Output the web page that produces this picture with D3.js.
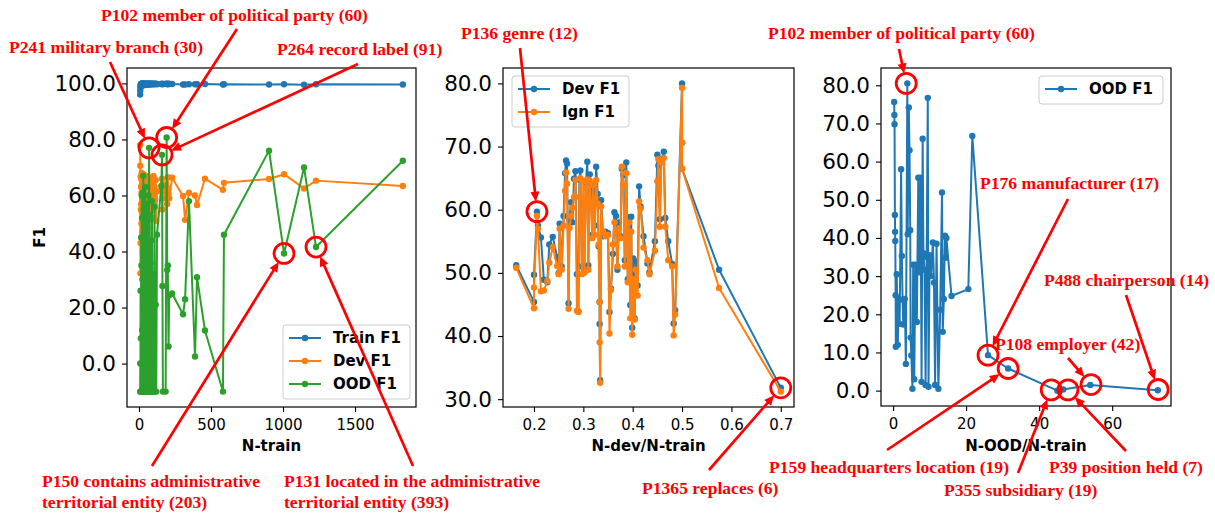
<!DOCTYPE html>
<html><head><meta charset="utf-8">
<script src="https://cdn.jsdelivr.net/npm/d3@7"></script>
<style>body{margin:0;background:#fff;} svg{display:block;}</style>
</head><body>
<svg id="chart" width="1215" height="513"></svg>
<script>
// ---------- Panel 1: F1 vs N-train ----------
const nTrain = [8,9,10,11,12,13,14,15,16,17,18,19,20,21,22,23,24,25,26,28,29,30,32,33,35,36,38,40,41,43,45,47,48,50,52,54,56,58,60,62,64,66,68,70,72,74,76,78,80,83,86,88,90,93,96,100,104,108,112,116,120,125,
  155,160,163,166,185,192,196,200,205,210,230,306,320,347,389,403,458,583,590,903,1007,1146,1229,1832];
const trainF1 = [96.0,97.5,98.6,99.2,99.6,98.9,99.8,99.1,99.7,99.9,99.3,99.9,99.5,99.8,99.6,99.9,99.2,99.7,100.0,99.6,99.8,99.7,99.9,99.4,99.8,99.6,99.9,99.7,99.8,99.6,99.9,99.7,99.8,99.9,99.6,99.8,99.9,99.7,99.8,99.9,99.6,99.8,99.9,99.7,99.8,99.9,99.8,99.9,99.7,99.8,99.9,99.7,99.8,99.9,99.8,99.9,99.7,99.8,99.9,99.8,99.9,99.7,
  99.8,99.9,99.7,99.8,99.9,99.8,99.9,99.7,99.8,99.9,99.8,99.6,99.6,99.7,99.7,99.7,99.8,99.6,99.7,99.6,99.7,99.5,99.7,99.6];
const devF1 = [78.0,70.6,32.2,43.0,66.8,55.0,63.0,57.0,66.0,50.0,61.0,68.0,54.0,64.0,59.0,66.5,47.0,62.0,57.5,65.0,52.0,64.5,60.0,67.5,55.5,63.5,58.0,66.0,50.5,62.5,57.0,65.5,53.5,61.0,67.0,56.0,63.0,48.5,64.0,59.5,66.5,55.0,62.0,63.5,65.0,58.5,51.5,60.0,66.0,54.5,62.5,57.5,64.5,52.0,60.5,67.0,55.5,63.0,58.5,65.5,51.0,61.5,
  62.0,66.0,55.0,64.0,59.0,63.0,57.0,66.5,60.5,59.0,66.3,59.8,51.3,61.0,60.0,56.6,66.0,62.0,64.5,65.9,67.6,62.5,65.3,63.4];
const oodF1 = [-10,0,-10,26,-10,9,-10,45,-10,35,-10,60,-10,52,12,-10,30,-10,61,-10,40,67,-10,55,-10,22,-10,48,-10,63,-10,18,50,-10,33,-10,57,-10,14,42,-10,60,-10,77,-10,53,28,-10,36,-10,44,-10,58,3,-10,32,-10,56,-10,21,-10,46,
  63.4,74.5,27.7,-10,-10,80.7,33.4,35.0,6.1,24.4,25.0,17.6,23.0,58.0,2.5,30.8,11.8,-10,46.0,76.0,39.3,70.0,41.6,72.4];
const xTicks1 = [0,500,1000,1500];
const yTicks1 = [0,20,40,60,80,100];

// ---------- Panel 2: F1 vs N-dev/N-train ----------
const devRatio = [0.164,0.200,0.200,0.206,0.208,0.214,0.220,0.227,0.231,0.238,0.247,0.250,0.252,0.256,0.260,0.263,0.265,0.267,0.270,0.272,0.275,0.278,0.281,0.284,0.287,0.290,0.292,0.294,0.297,0.300,0.302,0.305,0.308,0.310,0.313,0.316,0.318,0.320,0.323,0.326,0.329,0.331,0.333,0.333,0.334,0.336,0.340,0.345,0.350,0.353,0.356,0.360,0.363,0.366,0.369,0.372,0.375,0.378,0.381,0.384,0.387,0.390,0.393,0.395,0.397,0.399,0.401,0.404,0.406,0.410,0.413,0.416,0.422,0.430,0.434,0.445,0.450,0.452,0.455,0.458,0.463,0.466,0.472,0.480,0.483,0.486,0.500,0.500,0.500,0.575,0.700];
const ratioDevF1 = [51.2,45.4,49.7,59.7,57.5,55.6,48.9,48.5,54.5,55.7,52.5,50.0,57.8,51.0,59.0,65.8,67.8,67.3,45.2,58.5,61.2,58.0,64.9,66.1,49.8,43.9,64.8,66.2,51.0,60.5,50.2,64.1,67.6,51.2,65.6,62.0,56.0,63.0,57.5,66.8,62.5,54.2,45.4,41.9,33.0,61.5,55.8,56.5,56.3,43.8,47.5,53.0,59.6,59.0,50.5,58.0,55.8,66.5,65.5,52.0,67.5,49.0,58.8,44.9,58.9,41.3,52.3,42.8,51.8,48.0,63.7,60.5,55.8,51.5,50.1,55.0,68.7,67.0,58.5,68.0,69.2,58.7,55.0,51.4,42.0,44.1,80.0,70.6,66.5,50.5,31.8];
const ratioIgnF1 = [50.8,44.4,47.7,59.0,57.0,47.1,47.2,48.7,51.6,54.1,51.1,49.8,57.0,50.5,57.5,63.0,65.9,64.1,44.3,57.1,59.0,60.3,62.0,64.7,44.0,43.8,62.0,65.0,49.8,64.5,50.0,63.5,64.8,50.5,64.6,60.5,55.5,64.0,56.0,64.7,61.0,54.5,45.4,39.0,32.6,60.5,56.5,55.8,56.0,40.4,47.3,54.5,58.0,56.5,51.0,57.0,55.5,66.8,64.0,51.0,65.8,48.5,58.0,42.8,56.5,40.2,49.0,42.6,50.5,46.4,61.3,60.2,54.0,52.0,49.8,53.5,64.5,68.0,57.3,67.5,68.2,57.3,52.0,51.0,40.1,43.4,79.3,70.6,66.5,47.6,31.2];
const xTicks2 = [0.2,0.3,0.4,0.5,0.6,0.7];
const yTicks2 = [30,40,50,60,70,80];

// ---------- Panel 3: OOD F1 vs N-OOD/N-train ----------
const oodRatio = [0.3,0.35,0.4,0.5,0.55,0.6,0.7,0.75,1.0,1.3,1.5,1.8,2.2,2.4,2.6,2.8,3.2,3.5,3.9,4.0,4.3,4.5,4.7,4.8,5.0,5.3,5.5,5.8,6.1,6.5,6.9,7.2,7.5,7.8,8.1,8.3,8.6,8.9,9.2,9.5,9.7,10.0,10.4,10.9,11.2,11.5,11.9,12.4,12.9,13.4,13.6,13.9,14.2,14.4,14.6,16.0,20.6,21.7,26.0,31.5,45.0,46.6,54.0,72.5];
const oodRatioF1 = [75.6,72.2,69.8,46.0,41.6,39.2,25.0,11.5,30.5,12.0,24.0,17.5,58.0,35.3,23.8,17.3,24.0,7.0,80.5,41.0,74.2,63.0,42.0,13.9,9.2,0.5,33.0,3.0,33.0,18.0,55.8,31.0,55.8,2.3,66.0,36.0,31.7,1.5,35.0,76.7,1.0,35.5,30.0,38.8,28.3,1.5,38.5,0.5,21.2,51.9,15.4,24.0,40.6,34.8,40.0,24.8,26.6,66.7,9.3,5.8,0.0,0.3,1.5,0.1];
const xTicks3 = [0,20,40,60];
const yTicks3 = [0,10,20,30,40,50,60,70,80];

// ---------- Layout / styling ----------
const C = {blue:'#1f77b4', orange:'#ff7f0e', green:'#2ca02c', red:'#ff0000'};
const FONT = "'DejaVu Sans', sans-serif";
const SERIF = "'Liberation Serif', 'Times New Roman', serif";
const svg = d3.select('#chart');

function padded(arrays){
  const all = [].concat(...arrays);
  const [a,b] = d3.extent(all); const p = (b-a)*0.05; return [a-p, b+p];
}

function makePanel(box, xDom, yDom, xTicks, xFmt, yTicks, xLabel, yLabel){
  const x = d3.scaleLinear().domain(xDom).range([box.x0, box.x1]);
  const y = d3.scaleLinear().domain(yDom).range([box.y1, box.y0]);
  const g = svg.append('g');
  const xa = g.append('g').attr('transform',`translate(0,${box.y1})`)
    .call(d3.axisBottom(x).tickValues(xTicks).tickFormat(xFmt).tickSize(5).tickPadding(7));
  xa.attr('font-family', FONT).attr('font-size', 15);
  xa.select('.domain').remove();
  xa.selectAll('text').attr('fill','#000');
  xa.selectAll('line').attr('stroke','#000').attr('stroke-width',1.1);
  const ya = g.append('g').attr('transform',`translate(${box.x0},0)`)
    .call(d3.axisLeft(y).tickValues(yTicks).tickFormat(d3.format('.1f')).tickSize(5).tickPadding(6));
  ya.attr('font-family', FONT).attr('font-size', 21.5);
  ya.select('.domain').remove();
  ya.selectAll('text').attr('fill','#000');
  ya.selectAll('line').attr('stroke','#000').attr('stroke-width',1.1);
  const data = g.append('g');
  g.append('rect').attr('x',box.x0).attr('y',box.y0).attr('width',box.x1-box.x0).attr('height',box.y1-box.y0)
    .attr('fill','none').attr('stroke','#000').attr('stroke-width',1.2);
  g.append('text').attr('x',(box.x0+box.x1)/2).attr('y',451).attr('text-anchor','middle')
    .attr('font-family',FONT).attr('font-size',15).attr('font-weight','bold').text(xLabel);
  if (yLabel) {
    g.append('text').attr('transform',`translate(45,${(box.y0+box.y1)/2}) rotate(-90)`).attr('text-anchor','middle')
      .attr('font-family',FONT).attr('font-size',15).attr('font-weight','bold').text(yLabel);
  }
  return {x, y, g, data, box};
}

function series(p, xs, ys, color){
  const pts = xs.map((v,i)=>[v, ys[i]]);
  p.data.append('path').datum(pts)
    .attr('d', d3.line().x(d=>p.x(d[0])).y(d=>p.y(d[1])))
    .attr('fill','none').attr('stroke',color).attr('stroke-width',2).attr('stroke-linejoin','round');
  p.data.append('g').selectAll('circle').data(pts).join('circle')
    .attr('cx',d=>p.x(d[0])).attr('cy',d=>p.y(d[1])).attr('r',3.2).attr('fill',color);
}

function legend(p, items, bx, by, bw){
  const lg = svg.append('g');
  const h = items.length*23 + 5;
  lg.append('rect').attr('x',bx).attr('y',by).attr('width',bw).attr('height',h).attr('rx',3)
    .attr('fill','#fff').attr('fill-opacity',0.8).attr('stroke','#cccccc').attr('stroke-width',1);
  items.forEach((it,i)=>{
    const cy = by + 13 + i*23;
    lg.append('line').attr('x1',bx+6).attr('x2',bx+38).attr('y1',cy).attr('y2',cy)
      .attr('stroke',it.color).attr('stroke-width',2);
    lg.append('circle').attr('cx',bx+22).attr('cy',cy).attr('r',3.2).attr('fill',it.color);
    lg.append('text').attr('x',bx+50).attr('y',cy+5.4).attr('font-family',FONT).attr('font-size',15)
      .attr('font-weight','bold').text(it.label);
  });
}

function annotate(p, a){
  const ag = svg.append('g');
  const cx = p.x(a.at[0]), cy = p.y(a.at[1]), r = 10;
  ag.append('circle').attr('cx',cx).attr('cy',cy).attr('r',r).attr('fill','none')
    .attr('stroke',C.red).attr('stroke-width',2.8);
  const [fx,fy] = a.from;
  const dx = cx-fx, dy = cy-fy, L = Math.hypot(dx,dy), ux = dx/L, uy = dy/L;
  const tx = cx - ux*r, ty = cy - uy*r;
  const hl = 10, hw = 4.5;
  const bx = tx - ux*hl, by = ty - uy*hl;
  ag.append('line').attr('x1',fx).attr('y1',fy).attr('x2',bx+ux*1).attr('y2',by+uy*1)
    .attr('stroke',C.red).attr('stroke-width',2.7);
  ag.append('polygon').attr('points',[[tx,ty],[bx-uy*hw,by+ux*hw],[bx+uy*hw,by-ux*hw]].map(q=>q.join(',')).join(' '))
    .attr('fill',C.red);
  const t = ag.append('text').attr('font-family',SERIF).attr('font-weight','bold').attr('font-size',17.6)
    .attr('fill',C.red).attr('text-anchor',a.anchor||'start');
  a.lines.forEach((s,i)=>t.append('tspan').attr('x',a.tx).attr('y',a.ty+i*20.5).text(s));
}

// ---------- Build panels ----------
const p1 = makePanel({x0:127,x1:416,y0:68,y1:407}, padded([nTrain]), padded([trainF1,devF1,oodF1]),
  xTicks1, d3.format('d'), yTicks1, 'N-train', 'F1');
series(p1, nTrain, trainF1, C.blue);
series(p1, nTrain, devF1, C.orange);
series(p1, nTrain, oodF1, C.green);
legend(p1, [{label:'Train F1',color:C.blue},{label:'Dev F1',color:C.orange},{label:'OOD F1',color:C.green}], 283, 325, 127);

const p2 = makePanel({x0:503,x1:794,y0:68,y1:407}, padded([devRatio]), padded([ratioDevF1,ratioIgnF1]),
  xTicks2, d3.format('.1f'), yTicks2, 'N-dev/N-train', null);
series(p2, devRatio, ratioDevF1, C.blue);
series(p2, devRatio, ratioIgnF1, C.orange);
legend(p2, [{label:'Dev F1',color:C.blue},{label:'Ign F1',color:C.orange}], 512, 76, 117);

const p3 = makePanel({x0:881,x1:1171,y0:68,y1:406}, padded([oodRatio]), padded([oodRatioF1]),
  xTicks3, d3.format('d'), yTicks3, 'N-OOD/N-train', null);
series(p3, oodRatio, oodRatioF1, C.blue);
legend(p3, [{label:'OOD F1',color:C.blue}], 1039, 76, 124);

// ---------- Annotations ----------
[
  {p:p1, lines:['P241 military branch (30)'], tx:9, ty:53, from:[110,62], at:[70,77]},
  {p:p1, lines:['P102 member of political party (60)'], tx:101, ty:21, from:[237,29], at:[192,80.7]},
  {p:p1, lines:['P264 record label (91)'], tx:277, ty:55, from:[358,64], at:[160,74.5]},
  {p:p1, lines:['P150 contains administrative','territorial entity (203)'], tx:42, ty:487, from:[152,466], at:[1007,39.3]},
  {p:p1, lines:['P131 located in the administrative','territorial entity (393)'], tx:284, ty:487, from:[413,466], at:[1229,41.6]},
  {p:p2, lines:['P136 genre (12)'], tx:461, ty:39, from:[520,48], at:[0.206,59.7]},
  {p:p2, lines:['P1365 replaces (6)'], tx:642, ty:494, from:[709,470], at:[0.700,31.8]},
  {p:p3, lines:['P102 member of political party (60)'], tx:768, ty:39, from:[899,49], at:[3.6,80.5]},
  {p:p3, lines:['P176 manufacturer (17)'], tx:980, ty:189, from:[1068,199], at:[26,9.3]},
  {p:p3, lines:['P488 chairperson (14)'], tx:1044, ty:286, from:[1126,295], at:[72.6,0.3]},
  {p:p3, lines:['P108 employer (42)'], tx:995, ty:350, from:[1068,358], at:[54.2,1.6]},
  {p:p3, lines:['P159 headquarters location (19)'], tx:1009, ty:473, anchor:'end', from:[887,450], at:[31.5,5.8]},
  {p:p3, lines:['P355 subsidiary (19)'], tx:944, ty:496, from:[1018,473], at:[43.3,0.2]},
  {p:p3, lines:['P39 position held (7)'], tx:1049, ty:473, from:[1126,451], at:[47.9,0.2]}
].forEach(a=>annotate(a.p, a));
</script>
</body></html>
